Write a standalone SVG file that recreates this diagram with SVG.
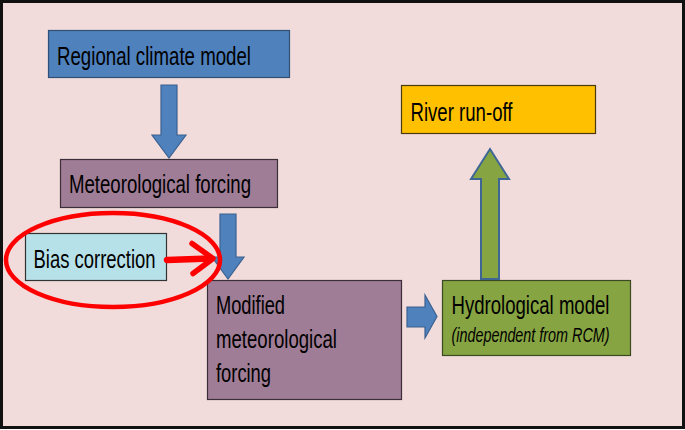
<svg xmlns="http://www.w3.org/2000/svg" width="685" height="430" viewBox="0 0 685 430">
<style>
.lbl{font-family:"Liberation Sans",Arial,sans-serif;font-size:25.5px;fill:#000;}
.ital{font-family:"Liberation Sans",Arial,sans-serif;font-size:21px;font-style:italic;fill:#000;}
.box{stroke-width:1.2;}
.blue{fill:#4f81bd;stroke:#3a6190;stroke-width:1.2;}
.green{fill:#87a442;stroke:#3e6695;stroke-width:2;}
.red{fill:none;stroke:#ff0000;stroke-linecap:round;stroke-linejoin:round;}
</style>
<rect x="1.5" y="1.5" width="682" height="426" fill="#f2dcdb" stroke="#111" stroke-width="3"/>

<g id="regional-climate-model">
<rect class="box" x="48.5" y="30.5" width="241" height="47" fill="#4f81bd" stroke="#2f4f75"/>
<text class="lbl" x="57" y="65" textLength="194" lengthAdjust="spacingAndGlyphs">Regional climate model</text>
</g>

<g id="meteorological-forcing">
<rect class="box" x="60.5" y="159.5" width="217" height="48" fill="#a07d96" stroke="#3a2f38"/>
<text class="lbl" x="69" y="193" textLength="182" lengthAdjust="spacingAndGlyphs">Meteorological forcing</text>
</g>

<g id="bias-correction">
<rect class="box" x="25.5" y="233.5" width="141" height="47" fill="#b7e1e8" stroke="#333"/>
<text class="lbl" x="33.5" y="268" textLength="122" lengthAdjust="spacingAndGlyphs">Bias correction</text>
</g>

<g id="modified-meteorological-forcing">
<rect class="box" x="207.5" y="280.5" width="194" height="119" fill="#a07d96" stroke="#3a2f38"/>
<text class="lbl" x="216" y="314" textLength="69" lengthAdjust="spacingAndGlyphs">Modified</text>
<text class="lbl" x="216" y="348" textLength="121" lengthAdjust="spacingAndGlyphs">meteorological</text>
<text class="lbl" x="216" y="382" textLength="55" lengthAdjust="spacingAndGlyphs">forcing</text>
</g>

<g id="hydrological-model">
<rect class="box" x="442.5" y="280.5" width="188" height="75" fill="#87a442" stroke="#3b4a22"/>
<text class="lbl" x="451.5" y="314" textLength="158" lengthAdjust="spacingAndGlyphs">Hydrological model</text>
<text class="ital" x="451.5" y="342" textLength="158" lengthAdjust="spacingAndGlyphs">(independent from RCM)</text>
</g>

<g id="river-run-off">
<rect class="box" x="401.5" y="85.5" width="194" height="48" fill="#ffc000" stroke="#4a3a10"/>
<text class="lbl" x="410.5" y="121" textLength="102" lengthAdjust="spacingAndGlyphs">River run-off</text>
</g>

<g id="connectors">
<polygon class="blue" points="161,85 177,85 177,135 186,135 169,158 152,135 161,135"/>
<polygon class="blue" points="220,214 236,214 236,257 244,257 228,279 212,257 220,257"/>
<polygon class="blue" points="407,307 425,307 425,295 437,316.5 425,338 425,327 407,327"/>
<polygon class="green" points="481,279 481,179 471,179 490,149 509,179 499,179 499,279"/>
<line class="red" x1="167" y1="260" x2="210" y2="258.5" stroke-width="6.5"/>
<polyline class="red" points="192,243.5 213,258.5 193,273.5" stroke-width="5.5"/>
</g>

<g id="highlight">
<ellipse class="red" cx="113" cy="260" rx="107" ry="47" stroke-width="4.5"/>
</g>
</svg>
